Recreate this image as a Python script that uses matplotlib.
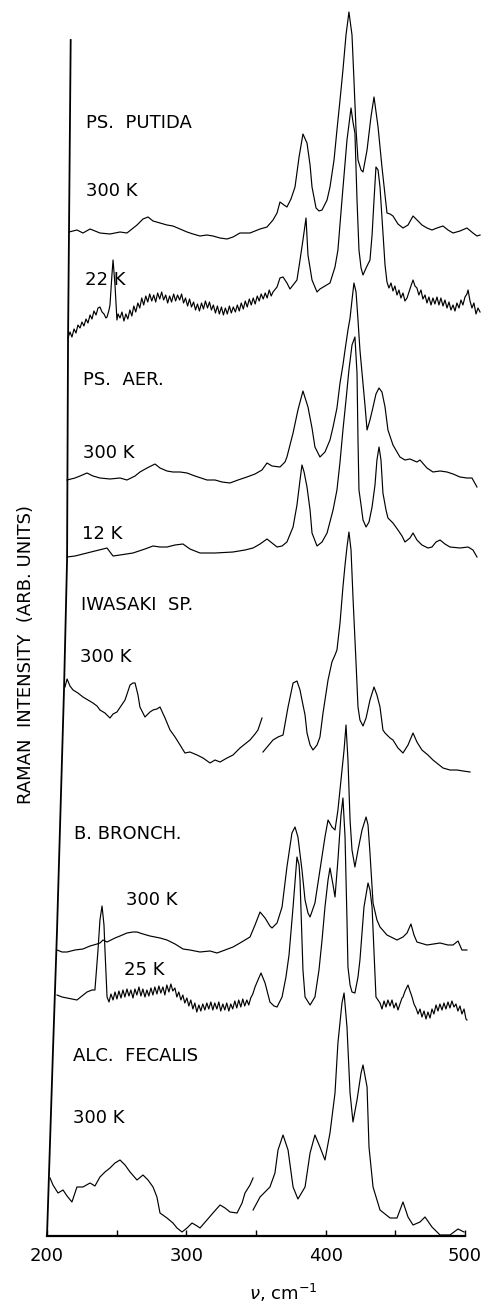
import matplotlib
matplotlib.use("Agg")
import matplotlib.pyplot as plt

# ---------------- data (wavenumber in cm^-1, intensity in arb. units incl. vertical offset) -------------
putida300_v = [215.8, 221.5, 225.8, 230.9, 238.0, 245.2, 252.4, 257.4, 264.6, 268.9, 272.5, 276.1, 281.1, 286.1,
               290.4, 295.5, 300.5, 304.8, 309.8, 314.8, 319.1, 324.2, 329.2, 333.5, 338.5, 345.7, 352.9, 357.9,
               362.2, 365.1, 367.2, 370.1, 372.2, 375.1, 378.0, 380.9, 383.7, 386.6, 388.8, 390.2, 393.1, 395.2,
               397.4, 401.0, 403.1, 406.0, 408.1, 410.3, 412.4, 414.6, 416.7, 418.9, 420.3, 421.8, 423.2, 425.4,
               426.8, 429.7, 432.5, 434.7, 437.6, 440.4, 444.0, 446.2, 448.3, 451.9, 455.5, 459.1, 462.7, 466.3,
               469.1, 472.7, 476.3, 479.9, 484.2, 487.8, 491.4, 496.4, 501.4, 505.7, 508.6, 510.8]
putida300_i = [1004, 1006, 1003, 1007, 1003, 1002, 1004, 1003, 1011, 1017, 1019, 1015, 1013, 1011,
               1010, 1007, 1004, 1002, 1000, 1001, 1000, 998, 997, 999, 1003, 1003, 1007, 1009,
               1016, 1023, 1034, 1031, 1029, 1037, 1049, 1079, 1102, 1093, 1071, 1049, 1028, 1025,
               1026, 1036, 1049, 1076, 1106, 1136, 1166, 1201, 1224, 1201, 1156, 1106, 1076, 1066,
               1064, 1086, 1119, 1139, 1109, 1069, 1023, 1022, 1020, 1012, 1008, 1011, 1020, 1015,
               1011, 1008, 1006, 1008, 1010, 1006, 1003, 1005, 1008, 1003, 1000, 1001]

putida22_v = [215.1, 216.5, 217.9, 219.4, 220.8, 222.2, 223.7, 225.1, 226.5, 228.0, 229.4, 230.9, 232.3, 233.7,
              235.2, 236.6, 238.0, 239.5, 240.9, 242.3, 243.1, 244.5, 245.2, 246.6, 247.4, 248.8, 250.2, 251.0,
              252.4, 253.8, 255.2, 256.6, 258.0, 259.5, 260.9, 262.3, 263.7, 265.2, 266.6, 268.0, 269.4, 270.9,
              272.3, 273.7, 275.2, 276.6, 278.0, 279.4, 280.9, 282.3, 283.7, 285.2, 286.6, 288.0, 289.4, 290.9,
              292.3, 293.7, 295.2, 296.6, 298.0, 299.4, 300.9, 302.3, 303.7, 305.2, 306.6, 308.0, 309.4, 310.9,
              312.3, 313.7, 315.2, 316.6, 318.0, 319.4, 320.9, 322.3, 323.7, 325.2, 326.6, 328.0, 329.4, 330.9,
              332.3, 333.7, 335.2, 336.6, 338.0, 339.4, 340.9, 342.3, 343.7, 345.2, 346.6, 348.0, 349.4, 350.9,
              352.3, 353.7, 355.2, 356.6, 358.0, 359.5, 360.9, 362.2, 365.1, 367.2, 369.4, 372.2, 374.4, 376.6,
              379.4, 381.6, 383.7, 385.9, 387.3, 390.2, 393.8, 395.9, 399.5, 403.1, 406.7, 408.8, 411.7, 415.3,
              418.2, 419.6, 421.0, 422.5, 423.9, 425.4, 426.8, 429.0, 431.8, 433.3, 434.7, 436.1, 437.6, 439.0,
              441.1, 442.6, 444.0, 445.4, 446.9, 448.3, 449.7, 451.2, 452.6, 454.0, 455.5, 456.9, 458.4, 459.8,
              461.2, 462.7, 464.1, 465.5, 466.9, 468.4, 469.8, 471.3, 472.7, 474.1, 475.6, 477.0, 478.4, 479.9,
              481.3, 482.7, 484.2, 485.6, 487.1, 488.5, 489.9, 491.4, 492.8, 494.2, 495.7, 497.1, 498.5, 500.0,
              501.4, 502.2, 503.6, 505.0, 506.4, 507.9, 509.3, 510.8]
putida22_i = [898, 904, 899, 907, 903, 911, 908, 914, 910, 917, 913, 921, 917, 925,
              921, 928, 929, 924, 922, 918, 919, 926, 931, 961, 976, 951, 916, 922,
              918, 924, 915, 922, 917, 926, 920, 930, 924, 933, 928, 938, 931, 940,
              934, 942, 935, 941, 934, 943, 937, 944, 936, 941, 933, 940, 934, 942,
              935, 941, 936, 942, 933, 938, 930, 937, 929, 934, 926, 932, 925, 933,
              927, 935, 928, 934, 926, 931, 923, 930, 922, 929, 921, 928, 922, 930,
              923, 929, 924, 931, 925, 933, 927, 935, 929, 937, 931, 938, 932, 940,
              935, 942, 937, 943, 938, 946, 940, 944, 949, 958, 959, 953, 947, 951,
              956, 976, 996, 1018, 981, 956, 944, 947, 950, 953, 969, 986, 1036, 1096,
              1128, 1114, 1103, 1036, 986, 968, 961, 968, 976, 1001, 1036, 1069, 1066, 1049,
              1003, 971, 954, 948, 953, 945, 950, 941, 946, 938, 943, 935, 938, 944,
              950, 956, 950, 948, 941, 946, 937, 941, 933, 939, 931, 938, 932, 939,
              931, 938, 930, 936, 928, 934, 926, 931, 925, 933, 928, 936, 931, 939,
              942, 946, 935, 928, 933, 922, 928, 924]

aer300_v = [214.4, 220.1, 223.7, 228.7, 233.0, 238.0, 245.2, 252.4, 257.4, 263.2, 266.7, 271.8, 277.5, 281.1,
            286.1, 290.4, 295.5, 300.5, 306.2, 314.8, 320.6, 325.6, 331.3, 337.1, 343.5, 349.3, 354.3, 357.9,
            361.5, 367.2, 370.8, 372.2, 376.6, 380.1, 383.7, 387.3, 390.2, 392.3, 395.9, 399.5, 403.1, 405.3,
            408.1, 410.3, 412.4, 413.9, 416.0, 417.5, 418.9, 420.3, 421.8, 423.2, 424.6, 426.1, 428.2, 429.7,
            431.8, 434.0, 436.1, 438.3, 440.4, 442.6, 444.7, 448.3, 453.3, 456.9, 460.5, 465.5, 467.7, 472.7,
            477.0, 482.1, 487.1, 491.4, 496.4, 501.4, 505.0, 508.6]
aer300_i = [756, 758, 760, 763, 760, 758, 757, 758, 756, 760, 764, 768, 772, 768,
            765, 764, 764, 763, 760, 756, 756, 754, 753, 756, 759, 762, 766, 773,
            770, 769, 774, 779, 803, 826, 845, 829, 808, 789, 779, 784, 796, 809,
            828, 853, 871, 886, 906, 918, 936, 953, 944, 916, 886, 863, 831, 806,
            816, 829, 842, 848, 844, 829, 806, 791, 779, 776, 777, 774, 776, 768,
            764, 765, 764, 762, 759, 758, 758, 749]

aer12_v = [214.4, 220.1, 228.7, 234.4, 243.1, 245.2, 247.4, 252.4, 261.7, 270.3, 276.1, 281.1, 286.1, 291.9,
           297.6, 302.6, 309.8, 320.6, 333.5, 342.1, 347.9, 352.9, 357.9, 361.5, 365.1, 368.7, 372.2, 376.6,
           379.4, 381.6, 383.0, 384.5, 386.6, 388.8, 390.2, 393.8, 397.4, 401.0, 405.3, 408.1, 410.3, 412.4,
           414.6, 416.7, 418.9, 421.0, 422.5, 423.2, 423.9, 425.4, 426.8, 429.0, 431.1, 433.3, 435.4, 436.8,
           438.3, 439.7, 441.1, 443.3, 444.7, 448.3, 451.9, 454.8, 456.9, 460.5, 462.7, 465.5, 469.1, 473.4,
           476.3, 479.2, 482.1, 485.6, 489.2, 496.4, 502.2, 505.7, 508.6]
aer12_i = [679, 680, 683, 685, 688, 684, 680, 681, 683, 687, 690, 689, 689, 691,
           692, 687, 683, 683, 684, 686, 688, 692, 697, 693, 689, 690, 694, 709,
           731, 756, 771, 764, 749, 726, 703, 690, 694, 703, 726, 746, 774, 806,
           836, 866, 891, 899, 863, 796, 746, 731, 716, 709, 714, 729, 751, 776,
           789, 776, 743, 726, 718, 713, 706, 700, 694, 698, 703, 696, 691, 688,
           689, 694, 696, 692, 689, 688, 689, 686, 679]

iwasaki_a_v = [212.9, 214.4, 216.5, 218.7, 222.2, 225.8, 229.4, 233.0, 235.9, 238.0, 241.6, 245.2, 247.4, 250.2,
               253.1, 256.0, 259.6, 261.7, 263.2, 265.3, 266.7, 270.3, 273.9, 276.1, 278.9, 281.1, 284.7, 288.3,
               291.9, 295.5, 299.0, 302.6, 307.7, 312.0, 317.0, 320.6, 324.2, 329.2, 333.5, 338.5, 342.1, 345.7,
               349.3, 351.4, 354.3]
iwasaki_a_i = [549, 557, 550, 546, 543, 539, 536, 533, 530, 526, 523, 518, 522, 524,
               530, 536, 551, 553, 553, 541, 529, 519, 524, 526, 527, 529, 518, 506,
               499, 491, 483, 484, 481, 478, 473, 476, 474, 478, 481, 488, 492, 496,
               502, 506, 518]
iwasaki_b_v = [355.0, 358.6, 362.2, 365.8, 369.4, 373.0, 376.6, 379.4, 381.6, 383.0, 385.2, 386.6, 388.8, 390.9,
               393.8, 395.9, 398.1, 401.7, 404.5, 406.7, 408.1, 410.3, 412.4, 413.9, 415.3, 416.7, 418.2, 419.6,
               421.8, 423.2, 424.6, 426.8, 429.0, 431.8, 434.7, 436.8, 439.0, 441.1, 442.6, 446.2, 448.3, 451.9,
               455.5, 459.1, 462.7, 465.5, 469.1, 473.4, 477.0, 480.6, 484.2, 489.2, 494.3, 498.6, 503.6]
iwasaki_b_i = [484, 490, 496, 499, 501, 529, 553, 555, 546, 536, 521, 503, 491, 486,
               491, 499, 523, 556, 574, 581, 586, 613, 649, 671, 689, 704, 686, 639,
               573, 529, 516, 510, 518, 536, 549, 541, 529, 506, 503, 498, 496, 488,
               483, 491, 503, 494, 486, 481, 476, 472, 468, 466, 466, 465, 464]

bronch300_v = [207.2, 210.8, 214.4, 220.1, 225.8, 230.9, 235.9, 238.0, 240.2, 243.1, 248.8, 252.4, 257.4, 261.7,
               264.6, 268.9, 273.9, 281.1, 286.1, 291.9, 297.6, 302.6, 309.8, 317.0, 322.0, 327.8, 333.5, 338.5,
               342.1, 345.7, 349.3, 352.9, 356.5, 360.0, 361.5, 365.1, 368.7, 372.2, 375.8, 378.0, 380.1, 383.0,
               385.2, 387.3, 388.8, 392.3, 395.9, 399.5, 401.7, 404.5, 406.7, 408.8, 411.0, 413.2, 414.6, 416.0,
               417.5, 418.9, 421.0, 423.2, 426.1, 429.0, 430.4, 431.8, 434.0, 436.8, 439.0, 444.0, 451.2, 455.5,
               458.4, 461.2, 463.4, 465.5, 472.7, 482.1, 487.8, 491.4, 495.0, 497.8, 501.4]
bronch300_i = [286, 284, 284, 286, 287, 290, 292, 293, 296, 294, 298, 300, 303, 304,
               304, 302, 300, 298, 296, 292, 287, 286, 284, 285, 283, 286, 289, 293,
               296, 299, 311, 324, 318, 310, 308, 313, 329, 369, 403, 409, 399, 366,
               336, 323, 319, 333, 366, 399, 416, 409, 406, 426, 456, 486, 511, 476,
               416, 386, 369, 386, 406, 419, 411, 383, 333, 316, 309, 301, 296, 299,
               303, 312, 301, 294, 291, 293, 291, 291, 295, 286, 286]

bronch25_v = [207.2, 210.8, 214.4, 217.9, 221.5, 225.1, 228.7, 232.3, 234.4, 236.6, 238.0, 239.5, 240.9, 241.6,
              243.1, 244.5, 245.9, 247.4, 248.8, 250.2, 251.6, 253.1, 254.5, 255.9, 257.4, 258.8, 260.2, 261.7,
              263.1, 264.5, 266.0, 267.4, 268.8, 270.3, 271.7, 273.1, 274.6, 276.0, 277.4, 278.9, 280.3, 281.7,
              283.2, 284.6, 286.0, 287.5, 288.9, 290.3, 291.8, 293.2, 294.6, 296.1, 297.5, 298.9, 300.4, 301.8,
              303.2, 304.7, 306.1, 307.5, 309.0, 310.4, 311.8, 313.3, 314.7, 316.1, 317.6, 319.0, 320.4, 321.9,
              323.3, 324.7, 326.2, 327.6, 329.0, 330.5, 331.9, 333.3, 334.8, 336.2, 337.6, 339.1, 340.5, 341.9,
              343.4, 344.8, 346.2, 347.7, 349.3, 351.4, 353.6, 356.5, 360.0, 362.9, 365.1, 368.7,
              371.5, 373.7, 376.6, 379.4, 380.9, 381.6, 383.0, 383.7, 385.2, 388.8, 392.3, 395.2, 397.4, 399.5,
              401.7, 403.1, 405.3, 406.7, 408.8, 411.0, 412.4, 413.9, 415.3, 416.0, 417.5, 418.9, 421.0, 423.2,
              424.6, 427.5, 430.4, 431.8, 433.3, 434.7, 436.1, 439.0, 440.4, 441.9, 443.3, 444.7, 446.2, 447.6,
              449.0, 450.5, 451.9, 453.3, 454.8, 455.5, 457.0, 459.1, 460.5, 462.0, 463.4, 464.8, 466.3, 467.7,
              469.1, 470.6, 472.0, 473.4, 474.9, 476.3, 477.7, 479.2, 480.6, 482.0, 483.5, 484.9, 486.3, 487.8,
              489.2, 490.6, 492.1, 493.5, 494.9, 496.4, 497.8, 499.3, 500.7, 501.4]
bronch25_i = [241, 239, 238, 237, 236, 240, 244, 246, 246, 286, 316, 330, 311, 286,
              239, 234, 242, 236, 244, 237, 245, 238, 246, 239, 247, 240, 246, 238,
              247, 241, 249, 240, 247, 239, 246, 240, 248, 241, 249, 242, 250, 243,
              249, 241, 251, 244, 252, 245, 248, 239, 244, 236, 241, 233, 238, 230,
              236, 227, 233, 224, 231, 225, 232, 226, 233, 227, 234, 226, 233, 227,
              234, 225, 232, 226, 233, 225, 232, 227, 235, 228, 236, 229, 237, 230,
              236, 231, 238, 242, 249, 256, 263, 253, 234, 230, 229, 239,
              259, 281, 329, 379, 371, 356, 296, 266, 239, 231, 239, 266, 296, 329,
              356, 368, 351, 339, 376, 421, 438, 399, 316, 269, 251, 244, 243, 259,
              276, 329, 353, 346, 329, 283, 239, 233, 227, 235, 229, 236, 230, 236,
              228, 233, 226, 232, 238, 239, 245, 251, 245, 239, 232, 228, 222, 227,
              219, 225, 217, 224, 218, 227, 222, 231, 225, 232, 226, 233, 227, 234,
              228, 235, 229, 232, 225, 230, 222, 227, 217, 216]

fecalis_a_v = [202.2, 204.3, 207.9, 211.5, 214.4, 217.9, 221.5, 225.8, 230.9, 234.4, 238.0, 241.6, 245.2, 248.8,
               252.4, 256.0, 259.6, 264.6, 268.9, 272.5, 276.1, 278.9, 281.1, 286.1, 290.4, 293.3, 296.9, 300.5,
               304.1, 307.7, 309.8, 314.8, 319.1, 324.2, 327.8, 331.3, 336.4, 340.0, 342.1, 345.7, 347.9]
fecalis_a_i = [58, 51, 43, 46, 40, 34, 49, 49, 53, 50, 59, 64, 68, 73,
               76, 71, 64, 56, 61, 56, 49, 39, 23, 18, 13, 8, 4, 8,
               13, 10, 8, 16, 23, 31, 28, 24, 23, 33, 43, 51, 58]
fecalis_b_v = [347.9, 352.9, 360.0, 363.6, 365.8, 369.4, 373.0, 376.6, 380.1, 385.2, 388.8, 392.3, 395.9, 399.5,
               403.1, 406.7, 408.8, 411.7, 413.2, 415.3, 417.5, 419.6, 422.5, 425.4, 426.8, 429.7, 431.1, 434.0,
               439.0, 446.2, 451.2, 455.5, 459.1, 462.7, 467.7, 471.3, 476.3, 482.1, 489.2, 495.0, 499.3]
fecalis_b_i = [26, 39, 49, 63, 86, 101, 86, 49, 37, 49, 83, 101, 89, 76,
               103, 143, 193, 233, 243, 209, 143, 114, 136, 163, 171, 149, 89, 49,
               26, 18, 18, 34, 19, 11, 14, 19, 9, 1, 1, 7, 4]

# slanted hand-drawn intensity axis (wavenumber, height)
axis_v = [217.0, 215.1, 214.4, 212.2, 207.2, 204.3, 200.0]
axis_i = [1196, 896, 676, 546, 306, 186, 0]

traces = [
    (putida300_v, putida300_i), (putida22_v, putida22_i),
    (aer300_v, aer300_i), (aer12_v, aer12_i),
    (iwasaki_a_v, iwasaki_a_i), (iwasaki_b_v, iwasaki_b_i),
    (bronch300_v, bronch300_i), (bronch25_v, bronch25_i),
    (fecalis_a_v, fecalis_a_i), (fecalis_b_v, fecalis_b_i),
]

labels = ["PS.  PUTIDA", "300 K", "22 K", "PS.  AER.", "300 K", "12 K",
          "IWASAKI  SP.", "300 K", "B. BRONCH.", "300 K", "25 K",
          "ALC.  FECALIS", "300 K"]
label_pos = [(228.0, 1113), (228.0, 1045), (227.3, 956), (225.8, 856), (225.8, 783),
             (225.1, 702), (224.4, 631), (223.7, 579), (219.4, 402), (256.7, 336),
             (255.3, 266), (218.7, 180), (218.7, 118)]

xticks_major = [200, 300, 400, 500]
xticks_minor = [250, 350, 450]

# ---------------- figure ----------------
W, H = 484, 1304
fig = plt.figure(figsize=(W / 100, H / 100), dpi=100)
ax = fig.add_axes([47 / W, 68 / H, 418 / W, 1236 / H])
ax.set_xlim(200, 500)
ax.set_ylim(0, 1236)

for v, i in traces:
    ax.plot(v, i, color="black", lw=0.85, clip_on=False, solid_joinstyle="round")

ax.plot(axis_v, axis_i, color="black", lw=1.3, clip_on=False)

for t, (x, y) in zip(labels, label_pos):
    ax.text(x, y, t, fontsize=13, ha="left", va="center", color="black")

for s in ["top", "right", "left"]:
    ax.spines[s].set_visible(False)
ax.spines["bottom"].set_linewidth(1.6)
ax.set_yticks([])
ax.set_xticks(xticks_major)
ax.set_xticks(xticks_minor, minor=True)
ax.set_xticklabels([str(t) for t in xticks_major], fontsize=13)
ax.tick_params(axis="x", which="both", direction="in", length=4, width=1, pad=8)

fig.text(283 / W, 1 - 1293 / H, r"$\nu$, cm$^{-1}$", fontsize=13, ha="center", va="center")
fig.text(26 / W, 1 - 655 / H, "RAMAN  INTENSITY  (ARB. UNITS)", fontsize=13, rotation=90,
         ha="center", va="center")

fig.savefig("out.png", dpi=100)
